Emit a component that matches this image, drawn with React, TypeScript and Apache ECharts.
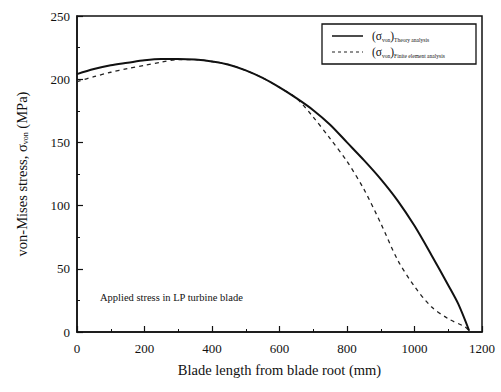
import React, { useEffect, useRef } from "react";
import * as echarts from "echarts";

const xTicks = [0, 200, 400, 600, 800, 1000, 1200];
const yTicks = [0, 50, 100, 150, 200, 250];

const theoryX = [0, 50, 100, 150, 200, 250, 300, 350, 400, 450, 500, 550, 600, 650, 700, 750, 800, 850, 900, 950, 1000, 1050, 1100, 1130, 1162];
const theoryY = [204, 208, 211, 213, 215, 216, 216, 215.5, 214, 211.5, 207, 201, 193.5, 185, 175.5, 164, 150, 136, 121, 104, 84, 61, 37, 22, 1];

const feaX = [0, 50, 100, 150, 200, 250, 300, 350, 400, 450, 500, 550, 600, 650, 700, 750, 800, 850, 900, 950, 1000, 1050, 1100, 1150, 1162];
const feaY = [198, 202, 205.5, 208.5, 211, 213.5, 215.5, 215.5, 214, 211.5, 207, 201, 193.5, 185, 170, 153, 135, 113, 86, 57, 36, 20, 10.5, 4, 1];

const seriesNames = ["Theory analysis", "Finite element analysis"];
const annotation = "Applied stress in LP turbine blade";

const FONT = "Liberation Serif";

export default function App() {
  const ref = useRef<HTMLDivElement>(null);
  useEffect(() => {
    if (!ref.current) return;
    const chart = echarts.init(ref.current, undefined, { renderer: "svg" });
    const toPairs = (xs: number[], ys: number[]) => xs.map((x, i) => [x, ys[i]]);
    const legendText = (name: string, y: number) => ({
      type: "text",
      x: 372,
      y,
      z: 11,
      style: {
        text: "(σ{a|von}){b|" + name + "}",
        fontFamily: FONT,
        fontSize: 11.5,
        fill: "#111",
        verticalAlign: "middle",
        rich: {
          a: { fontFamily: FONT, fontSize: 5.5, fill: "#111", verticalAlign: "bottom", padding: [5, 0, 0, 0] },
          b: { fontFamily: FONT, fontSize: 5.5, fill: "#111", verticalAlign: "bottom", padding: [8, 0, 0, 0] },
        },
      },
    });
    chart.setOption({
      animation: false,
      backgroundColor: "#fff",
      textStyle: { fontFamily: FONT, color: "#111" },
      grid: {
        left: 77,
        right: 19,
        top: 16,
        bottom: 60,
        show: true,
        borderColor: "#111",
        borderWidth: 1.5,
        backgroundColor: "transparent",
      },
      xAxis: {
        type: "value",
        min: 0,
        max: 1200,
        interval: 200,
        name: "Blade length from blade root (mm)",
        nameLocation: "middle",
        nameGap: 30,
        nameTextStyle: { fontFamily: FONT, fontSize: 14.5, color: "#111" },
        axisLine: { show: true, lineStyle: { color: "#111", width: 1.5 } },
        axisTick: { show: true, inside: true, length: 6, lineStyle: { color: "#111", width: 1.2 } },
        minorTick: { show: true, splitNumber: 2, length: 3, lineStyle: { color: "#111", width: 1 } },
        splitLine: { show: false },
        axisLabel: {
          fontFamily: FONT,
          fontSize: 13,
          color: "#111",
          margin: 10,
          formatter: (v: number) => (xTicks.includes(v) ? String(v) : ""),
        },
      },
      yAxis: {
        type: "value",
        min: 0,
        max: 250,
        interval: 50,
        name: "von-Mises stress, σ{s|von} (MPa)",
        nameLocation: "middle",
        nameGap: 48,
        nameTextStyle: {
          fontFamily: FONT,
          fontSize: 14.5,
          color: "#111",
          rich: { s: { fontFamily: FONT, fontSize: 8, color: "#111", verticalAlign: "bottom", padding: [6, 0, 0, 0] } },
        },
        axisLine: { show: true, lineStyle: { color: "#111", width: 1.5 } },
        axisTick: { show: true, inside: true, length: 6, lineStyle: { color: "#111", width: 1.2 } },
        minorTick: { show: true, splitNumber: 2, length: 3, lineStyle: { color: "#111", width: 1 } },
        splitLine: { show: false },
        axisLabel: {
          fontFamily: FONT,
          fontSize: 13,
          color: "#111",
          margin: 7,
          formatter: (v: number) => (yTicks.includes(v) ? String(v) : ""),
        },
      },
      series: [
        {
          name: seriesNames[0],
          type: "line",
          data: toPairs(theoryX, theoryY),
          smooth: 0.3,
          showSymbol: false,
          lineStyle: { color: "#111", width: 2 },
          z: 3,
        },
        {
          name: seriesNames[1],
          type: "line",
          data: toPairs(feaX, feaY),
          smooth: 0.3,
          showSymbol: false,
          lineStyle: { color: "#222", width: 1.3, type: [4, 4] },
          z: 2,
        },
      ],
      graphic: [
        {
          type: "rect",
          shape: { x: 322, y: 24, width: 154, height: 40 },
          style: { fill: "#fff", stroke: "#111", lineWidth: 1.3 },
          z: 10,
        },
        {
          type: "line",
          shape: { x1: 332, y1: 36, x2: 363, y2: 36 },
          style: { stroke: "#111", lineWidth: 1.5 },
          z: 11,
        },
        {
          type: "line",
          shape: { x1: 332, y1: 52, x2: 363, y2: 52 },
          style: { stroke: "#222", lineWidth: 1.2, lineDash: [3, 3] },
          z: 11,
        },
        legendText(seriesNames[0], 36),
        legendText(seriesNames[1], 52),
        {
          type: "text",
          x: 100,
          y: 297,
          z: 11,
          style: {
            text: annotation,
            fontFamily: FONT,
            fontSize: 10.5,
            fill: "#111",
            verticalAlign: "middle",
          },
        },
      ],
    });
    return () => chart.dispose();
  }, []);
  return <div ref={ref} style={{ width: 501, height: 392, position: "absolute", left: 0, top: 0 }} />;
}
